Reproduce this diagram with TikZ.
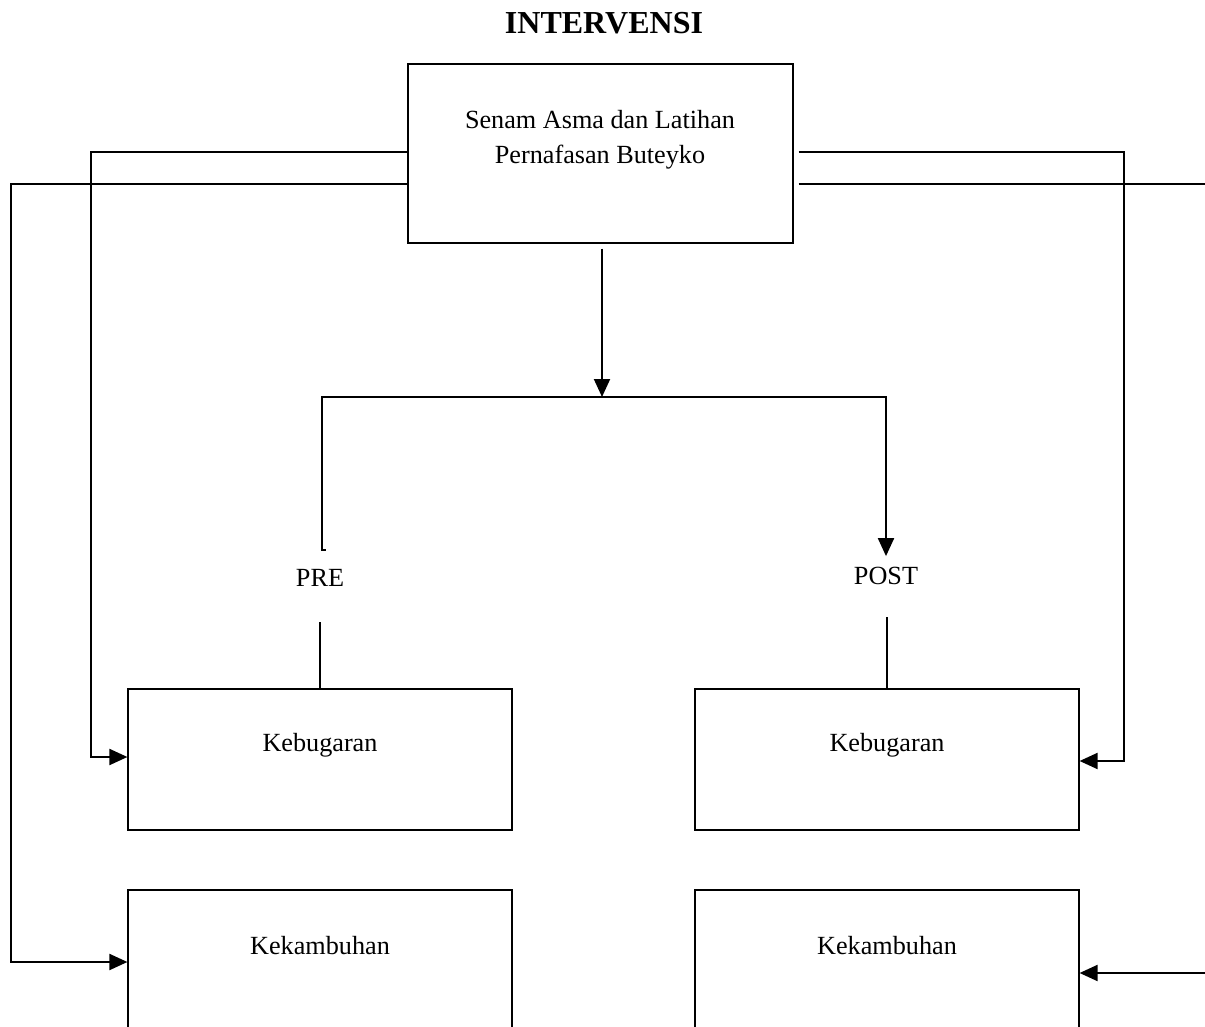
\documentclass[tikz,border=0pt]{standalone}
\usepackage{fontspec}
\setmainfont{Liberation Serif}
\usetikzlibrary{arrows.meta,positioning}

\begin{document}
\begin{tikzpicture}[x=0.5pt,y=-0.5pt,
  box/.style={draw,line width=0.6pt,minimum width=192pt,minimum height=70.5pt,inner sep=0pt},
  conn/.style={line width=1pt},
  arr/.style={conn,-{Triangle[length=9pt,width=8pt]}},
  every node/.style={font=\fontsize{13.1}{17.5}\selectfont}]
\useasboundingbox (0,0) rectangle (1205,1027);
\clip (0,0) rectangle (1205,1027);
% judul dan kotak atas
\node[font=\fontsize{16}{19}\selectfont\bfseries] (judul) at (604,23) {INTERVENSI};
\node[box,minimum width=192.5pt,minimum height=89.5pt] (senam) at (600.5,153.5) {};
\node[align=center] (senamtxt) at (600,140) {Senam Asma dan Latihan\\Pernafasan Buteyko};
% kotak bawah
\node[box] (kebPre) at (320,759.5) {};
\node (kebPreTxt) at (320,745) {Kebugaran};
\node[box] (kekPre) at (320,960.5) {};
\node (kekPreTxt) at (320,946) {Kekambuhan};
\node[box] (kebPost) at (887,759.5) {};
\node (kebPostTxt) at (887,745) {Kebugaran};
\node[box] (kekPost) at (887,960.5) {};
\node (kekPostTxt) at (887,946) {Kekambuhan};
\node (pre) at (320,578) {PRE};
\node (post) at (886,576) {POST};
% cabang tengah
\coordinate (cabang) at (602,397);
\draw[arr] ([yshift=-2.5pt]senam.south -| cabang) -- (cabang);
\draw[conn] (cabang) -| (322,550) -- ++(4,0);
\draw[arr] (cabang) -| ([yshift=2pt]post.north);
\draw[conn] (kebPre.north) -- ++(0,-66);
\draw[conn] (kebPost.north) -- ++(0,-71);
% garis samping
\draw[arr] (senam.west |- 0,152) -| (91,757) -- (kebPre.west |- 0,757);
\draw[arr] (senam.west |- 0,184) -| (11,962) -- (kekPre.west |- 0,962);
\draw[arr] ([xshift=2.5pt]senam.east |- 0,152) -| (1124,761) -- (kebPost.east |- 0,761);
\draw[conn] ([xshift=2.5pt]senam.east |- 0,184) -- (1205,184);
\draw[arr] (1205,973) -- (kekPost.east |- 0,973);
\end{tikzpicture}
\end{document}
